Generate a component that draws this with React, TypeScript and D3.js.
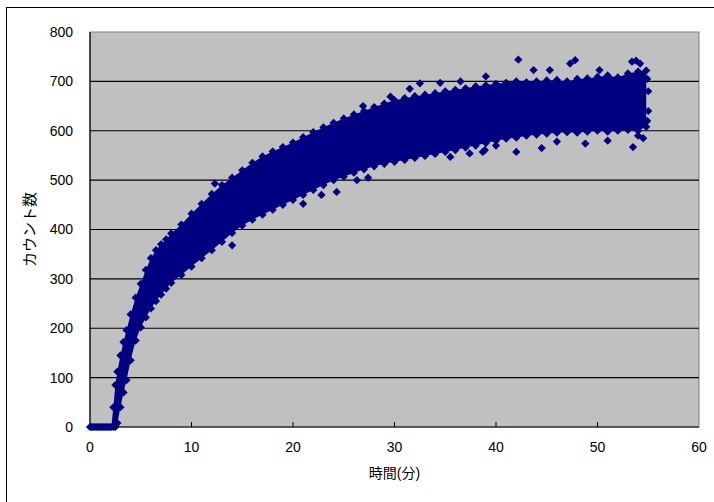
import * as d3 from 'd3';

// chart frame, as measured on the reference
const W = 714;
const H = 502;
const PLOT = { LEFT: 90, TOP: 32, RIGHT: 699, BOTTOM: 427 };
const NAVY = '#000080';
const FONT = "'Liberation Sans', 'Noto Sans CJK JP', sans-serif";

const X_TICKS = [0, 10, 20, 30, 40, 50, 60];
const Y_TICKS = [0, 100, 200, 300, 400, 500, 600, 700, 800];
const X_TITLE = '時間(分)';
const Y_TITLE = 'カウント数';

// dense core of the cloud: lower / upper edge at each time (minutes)
const ENV_X = [
  0, 0.15, 0.3, 0.45, 0.6, 0.75, 0.9, 1.05, 1.2, 1.35, 1.5, 1.65, 1.8, 1.95, 2.1,
  2.3, 2.5, 2.7, 3.0, 3.3, 3.6, 4.0, 4.5, 5.0, 5.5, 6.0, 6.5, 7.0, 7.5, 8.0,
  9, 10, 11, 12, 13, 14, 15, 16, 17, 18, 19, 20, 21, 22, 23, 24, 25, 26, 27,
  28, 29, 30, 31, 32, 33, 34, 35, 36, 37, 38, 39, 40, 41, 42, 43, 44, 45, 46,
  47, 48, 49, 50, 51, 52, 53, 54, 54.8,
];
const ENV_LOW = [
  0, 0, 0, 0, 0, 0, 0, 0, 0, 0, 0, 0, 0, 0, 0,
  0, 0, 8, 40, 70, 95, 135, 175, 202, 222, 240, 255, 268, 280, 292,
  308, 325, 342, 358, 375, 393, 408, 420, 430, 440, 450, 460, 470, 480, 490,
  500, 507, 515, 522, 528, 533, 537, 541, 545, 549, 553, 557, 561, 566, 570,
  575, 580, 584, 586, 590, 592, 594, 596, 597, 596, 598, 600, 598, 600, 602,
  600, 608,
];
const ENV_HIGH = [
  0, 0, 0, 0, 0, 0, 0, 0, 0, 0, 0, 0, 0, 0, 0,
  40, 85, 112, 145, 172, 196, 228, 262, 290, 318, 342, 358, 370, 380, 392,
  410, 432, 452, 472, 490, 505, 520, 535, 548, 558, 567, 576, 587, 597, 607,
  616, 625, 633, 640, 648, 655, 662, 666, 670, 673, 676, 680, 683, 686, 690,
  692, 695, 697, 700, 698, 700, 702, 703, 700, 705, 706, 709, 712, 708, 716,
  720, 722,
];

// stray points outside the core
const OUT_X = [
  12.3, 14.0, 21.0, 22.8, 24.3, 26.3, 27.4, 26.9, 29.6, 31.5, 32.5, 34.5,
  35.5, 37.4, 38.7, 38.9, 40.0, 42.0, 42.2, 43.7, 45.3, 47.3, 47.8, 48.8,
  50.2, 51.0, 53.4, 54.2, 53.5, 54.5, 36.5, 39.0, 44.5, 46.0,
  55.0, 55.0, 54.9, 54.9, 53.8, 54.0,
];
const OUT_Y = [
  493, 368, 452, 470, 476, 500, 505, 650, 669, 685, 696, 697,
  547, 554, 557, 561, 570, 557, 744, 723, 723, 736, 743, 574,
  723, 580, 740, 736, 567, 585, 700, 710, 565, 578,
  640, 680, 705, 620, 742, 590,
];

const App = () => {
  const x = d3.scaleLinear().domain([0, 60]).range([PLOT.LEFT, PLOT.RIGHT]);
  const y = d3.scaleLinear().domain([0, 800]).range([PLOT.BOTTOM, PLOT.TOP]);

  const core = ENV_X.map((t, i) => ({ t, lo: ENV_LOW[i], hi: ENV_HIGH[i] }));
  const band = d3
    .area<{ t: number; lo: number; hi: number }>()
    .x((d) => x(d.t))
    .y0((d) => y(d.lo))
    .y1((d) => y(d.hi))(core);

  // Excel-style diamond: a square turned 45°
  const diamond = d3.symbol().type(d3.symbolSquare).size(34)()!;
  const marks: [number, number][] = [];
  core.forEach((d) => {
    marks.push([d.t, d.lo]);
    if (d.hi !== d.lo) marks.push([d.t, d.hi]);
  });
  OUT_X.forEach((t, i) => marks.push([t, OUT_Y[i]]));

  return (
    <svg
      width={W}
      height={H}
      style={{ position: 'absolute', left: 0, top: 0, background: '#fff' }}
      fontFamily={FONT}
    >
      <rect x={6.5} y={7.5} width={W + 10} height={H + 10} fill="#fff" stroke="#000" />
      <rect
        x={PLOT.LEFT}
        y={PLOT.TOP}
        width={PLOT.RIGHT - PLOT.LEFT}
        height={PLOT.BOTTOM - PLOT.TOP}
        fill="#c0c0c0"
        stroke="#808080"
      />
      {Y_TICKS.slice(1, -1).map((v) => (
        <line key={v} x1={PLOT.LEFT} x2={PLOT.RIGHT} y1={y(v)} y2={y(v)} stroke="#000" strokeWidth={1.2} />
      ))}

      {/* axes (markers are drawn over them, as in Excel) */}
      <line x1={PLOT.LEFT} x2={PLOT.LEFT} y1={PLOT.TOP} y2={PLOT.BOTTOM} stroke="#000" strokeWidth={1.2} />
      <line x1={PLOT.LEFT} x2={PLOT.RIGHT} y1={PLOT.BOTTOM} y2={PLOT.BOTTOM} stroke="#000" strokeWidth={1.2} />
      {X_TICKS.slice(1, -1).map((v) => (
        <line key={v} x1={x(v)} x2={x(v)} y1={PLOT.BOTTOM} y2={PLOT.BOTTOM - 5} stroke="#000" />
      ))}

      <path d={band ?? ''} fill={NAVY} />
      {marks.map(([t, v], i) => (
        <path key={i} d={diamond} fill={NAVY} transform={`translate(${x(t)},${y(v)}) rotate(45)`} />
      ))}

      {Y_TICKS.map((v) => (
        <text key={v} x={73} y={y(v)} dy="0.35em" textAnchor="end" fontSize={14} fill="#000">
          {v}
        </text>
      ))}
      {X_TICKS.map((v) => (
        <text key={v} x={x(v)} y={447} dy="0.35em" textAnchor="middle" fontSize={14} fill="#000">
          {v}
        </text>
      ))}

      <text x={(PLOT.LEFT + PLOT.RIGHT) / 2} y={473} dy="0.35em" textAnchor="middle" fontSize={14} fill="#000">
        {X_TITLE}
      </text>
      <text
        transform={`translate(30,${(PLOT.TOP + PLOT.BOTTOM) / 2}) rotate(-90)`}
        dy="0.35em"
        textAnchor="middle"
        fontSize={15}
        fill="#000"
      >
        {Y_TITLE}
      </text>
    </svg>
  );
};

export default App;
